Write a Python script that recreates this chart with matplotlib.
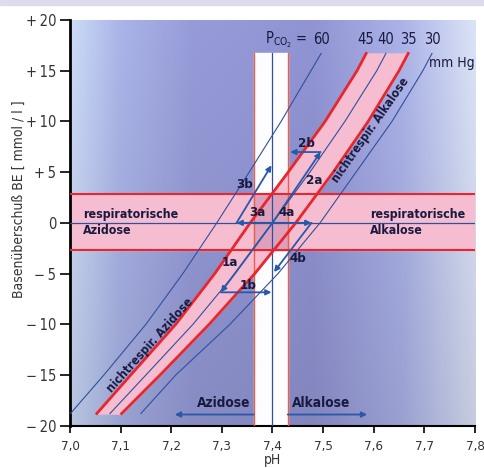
import numpy as np
import matplotlib.pyplot as plt
from matplotlib import font_manager

# the original uses a condensed sans; use DejaVu Sans Condensed if it is there
have_cond = any(f.name == 'DejaVu Sans' and f.stretch == 'condensed'
                for f in font_manager.fontManager.ttflist)
if have_cond:
    plt.rcParams['font.family'] = ['DejaVu Sans']
    plt.rcParams['font.stretch'] = 'condensed'
    k = 1.0
else:
    plt.rcParams['font.family'] = ['Liberation Sans', 'DejaVu Sans']
    k = 0.9

be_levels = [-18.8, -15, -10, -5, 0, 5, 10, 15, 16.7]
# pH of each PCO2 isobar at those levels
ph_60 = [7.001, 7.067, 7.150, 7.223, 7.290, 7.354, 7.417, 7.476, 7.496]
ph_45 = [7.053, 7.120, 7.209, 7.286, 7.356, 7.431, 7.504, 7.567, 7.585]
ph_40 = [7.079, 7.150, 7.243, 7.326, 7.400, 7.474, 7.543, 7.606, 7.624]
ph_35 = [7.102, 7.178, 7.275, 7.365, 7.446, 7.520, 7.589, 7.650, 7.668]
ph_30 = [7.140, 7.209, 7.316, 7.411, 7.494, 7.565, 7.636, 7.697, 7.715]
pco2_labels = ['60', '45', '40', '35', '30']

# normal ranges
ph_normal = [7.363, 7.43]
be_normal = [-2.7, 2.8]
band_top = 16.7

# arrows (start pH, start BE, end pH, end BE)
arrows = {
    '1a': (7.400, 0.0, 7.298, -6.85),
    '1b': (7.298, -6.85, 7.398, -6.85),
    '2a': (7.400, 0.0, 7.495, 6.98),
    '2b': (7.495, 6.98, 7.435, 6.98),
    '3a': (7.400, 0.0, 7.329, 0.0),
    '3b': (7.329, 0.0, 7.398, 5.67),
    '4a': (7.400, 0.0, 7.477, 0.0),
    '4b': (7.477, 0.0, 7.403, -4.85),
}
arrow_labels = {
    '1a': (7.316, -3.9), '1b': (7.352, -6.2),
    '2a': (7.482, 4.2), '2b': (7.468, 7.8),
    '3a': (7.371, 1.0), '3b': (7.344, 3.8),
    '4a': (7.428, 1.0), '4b': (7.450, -3.5),
}

x_ticks = [7.0, 7.1, 7.2, 7.3, 7.4, 7.5, 7.6, 7.7, 7.8]
x_ticklabels = ['7,0', '7,1', '7,2', '7,3', '7,4', '7,5', '7,6', '7,7', '7,8']
y_ticks = [-20, -15, -10, -5, 0, 5, 10, 15, 20]
y_ticklabels = ['\u2212\u200920', '\u2212\u200915', '\u2212\u200910', '\u2212\u20095', '0',
                '+\u20095', '+\u200910', '+\u200915', '+\u200920']

red = '#e8262e'
blue = '#30509e'
arrow_blue = '#2a58a8'
pink = '#f6bdd0'
mauve = '#d99cba'
dark = '#1a1a40'
grey = '#333333'

fig = plt.figure(figsize=(4.84, 4.68), dpi=100)
fig.patches.append(plt.Rectangle((0, 0.99), 1, 0.01, transform=fig.transFigure,
                                 color='#dcdcee', zorder=0))
ax = fig.add_axes([0.1446, 0.0904, 0.8368, 0.8669])

# background gradient
fx = [0.0, 0.12, 0.3, 0.6, 0.82, 1.0]
cr = [0.80, 0.67, 0.59, 0.57, 0.67, 0.86]
cg = [0.86, 0.71, 0.61, 0.58, 0.70, 0.89]
cb = [0.97, 0.91, 0.85, 0.83, 0.91, 0.97]
xs = np.linspace(0, 1, 200)
ys = np.linspace(0, 1, 100)
row = np.stack([np.interp(xs, fx, cr), np.interp(xs, fx, cg), np.interp(xs, fx, cb)], axis=-1)
shade = (0.9 + 0.1 * ys)[:, None, None]
img = np.clip(row[None, :, :] * shade, 0, 1)
ax.imshow(img, extent=[7.0, 7.8, -20, 20], aspect='auto', origin='lower', zorder=0)

# normal pH band (white) and normal BE band (pink)
ax.fill_betweenx([-20, band_top], ph_normal[0], ph_normal[1], color='#fdfdff', zorder=1)
ax.axhspan(be_normal[0], be_normal[1], color=pink, zorder=2)
ax.fill_betweenx(be_levels, ph_45, ph_35, color=pink, zorder=3)
ax.fill_betweenx(be_normal, ph_normal[0], ph_normal[1], color=mauve, alpha=0.85, zorder=3.5)

for p in ph_normal:
    ax.plot([p, p], [-20, band_top], color='#e8604a', lw=1.0, zorder=4)
for b in be_normal:
    ax.axhline(b, color=red, lw=1.5, zorder=4)
ax.axhline(0, color=blue, lw=0.9, zorder=4)
ax.plot([7.4, 7.4], [-20, band_top], color=blue, lw=0.9, zorder=4)

# isobars
for ph, lab in zip([ph_60, ph_45, ph_40, ph_35, ph_30], pco2_labels):
    if lab in ('45', '35'):
        ax.plot(ph, be_levels, color=red, lw=2.0, zorder=5)
    else:
        ax.plot(ph, be_levels, color=blue, lw=0.8, zorder=5)
    ax.text(ph[-1], 18.1, lab, ha='center', va='center', fontsize=10.5 * k, color=dark, zorder=6)
ax.text(ph_60[-1] - 0.026, 18.1, r'P$_{\mathregular{CO_2}}$ =', ha='right', va='center',
        fontsize=10.5 * k, color=dark, zorder=6)
ax.text(7.8, 15.8, 'mm Hg', ha='right', va='center', fontsize=10 * k, color=dark, zorder=6)

# arrows
for key, (x0, y0, x1, y1) in arrows.items():
    ax.annotate('', xy=(x1, y1), xytext=(x0, y0),
                arrowprops=dict(arrowstyle='-|>', color=arrow_blue, lw=1.3,
                                mutation_scale=8, shrinkA=0, shrinkB=0), zorder=7)
    lx, ly = arrow_labels[key]
    ax.text(lx, ly, key, ha='center', va='center', fontsize=9.5 * k, fontweight='bold',
            color=dark, zorder=8)

# region labels
ax.text(7.026, 0.0, 'respiratorische\nAzidose', ha='left', va='center', fontsize=8.9 * k,
        fontweight='bold', color=dark, linespacing=1.3, zorder=8)
ax.text(7.593, 0.0, 'respiratorische\nAlkalose', ha='left', va='center', fontsize=8.9 * k,
        fontweight='bold', color=dark, linespacing=1.3, zorder=8)
ax.text(7.158, -12.1, 'nichtrespir. Azidose', ha='center', va='center', rotation=48,
        rotation_mode='anchor', fontsize=8.8 * k, fontweight='bold', color=dark, zorder=8)
ax.text(7.593, 9.1, 'nichtrespir. Alkalose', ha='center', va='center', rotation=55,
        rotation_mode='anchor', fontsize=8.7 * k, fontweight='bold', color=dark, zorder=8)

# bottom arrows
ax.annotate('', xy=(7.207, -18.9), xytext=(ph_normal[0], -18.9),
            arrowprops=dict(arrowstyle='-|>', color=arrow_blue, lw=1.3,
                            mutation_scale=8, shrinkA=0, shrinkB=0), zorder=7)
ax.annotate('', xy=(7.587, -18.9), xytext=(ph_normal[1], -18.9),
            arrowprops=dict(arrowstyle='-|>', color=arrow_blue, lw=1.3,
                            mutation_scale=8, shrinkA=0, shrinkB=0), zorder=7)
ax.text(7.303, -17.8, 'Azidose', ha='center', va='center', fontsize=9.8 * k,
        fontweight='bold', color=dark, zorder=8)
ax.text(7.496, -17.8, 'Alkalose', ha='center', va='center', fontsize=9.8 * k,
        fontweight='bold', color=dark, zorder=8)

ax.set_xlim(7.0, 7.8)
ax.set_ylim(-20, 20)
ax.set_xticks(x_ticks)
ax.set_xticklabels(x_ticklabels)
ax.set_yticks(y_ticks)
ax.set_yticklabels(y_ticklabels)
ax.tick_params(axis='y', direction='out', length=7, width=1.2, pad=3,
               labelsize=10.5 * k, labelcolor=grey)
ax.tick_params(axis='x', direction='out', length=5, width=1.2, pad=5,
               labelsize=9.5 * k, labelcolor=grey)
for s in ['top', 'right']:
    ax.spines[s].set_visible(False)
ax.spines['left'].set_linewidth(2.0)
ax.spines['bottom'].set_linewidth(1.5)
ax.set_xlabel('pH', fontsize=10 * k, color=grey, labelpad=0)
ax.set_ylabel('Basenüberschuß BE [ mmol / l ]', fontsize=10 * k, color=grey)
ax.yaxis.set_label_coords(-0.11, 0.559)

fig.savefig('out.png', dpi=100)
